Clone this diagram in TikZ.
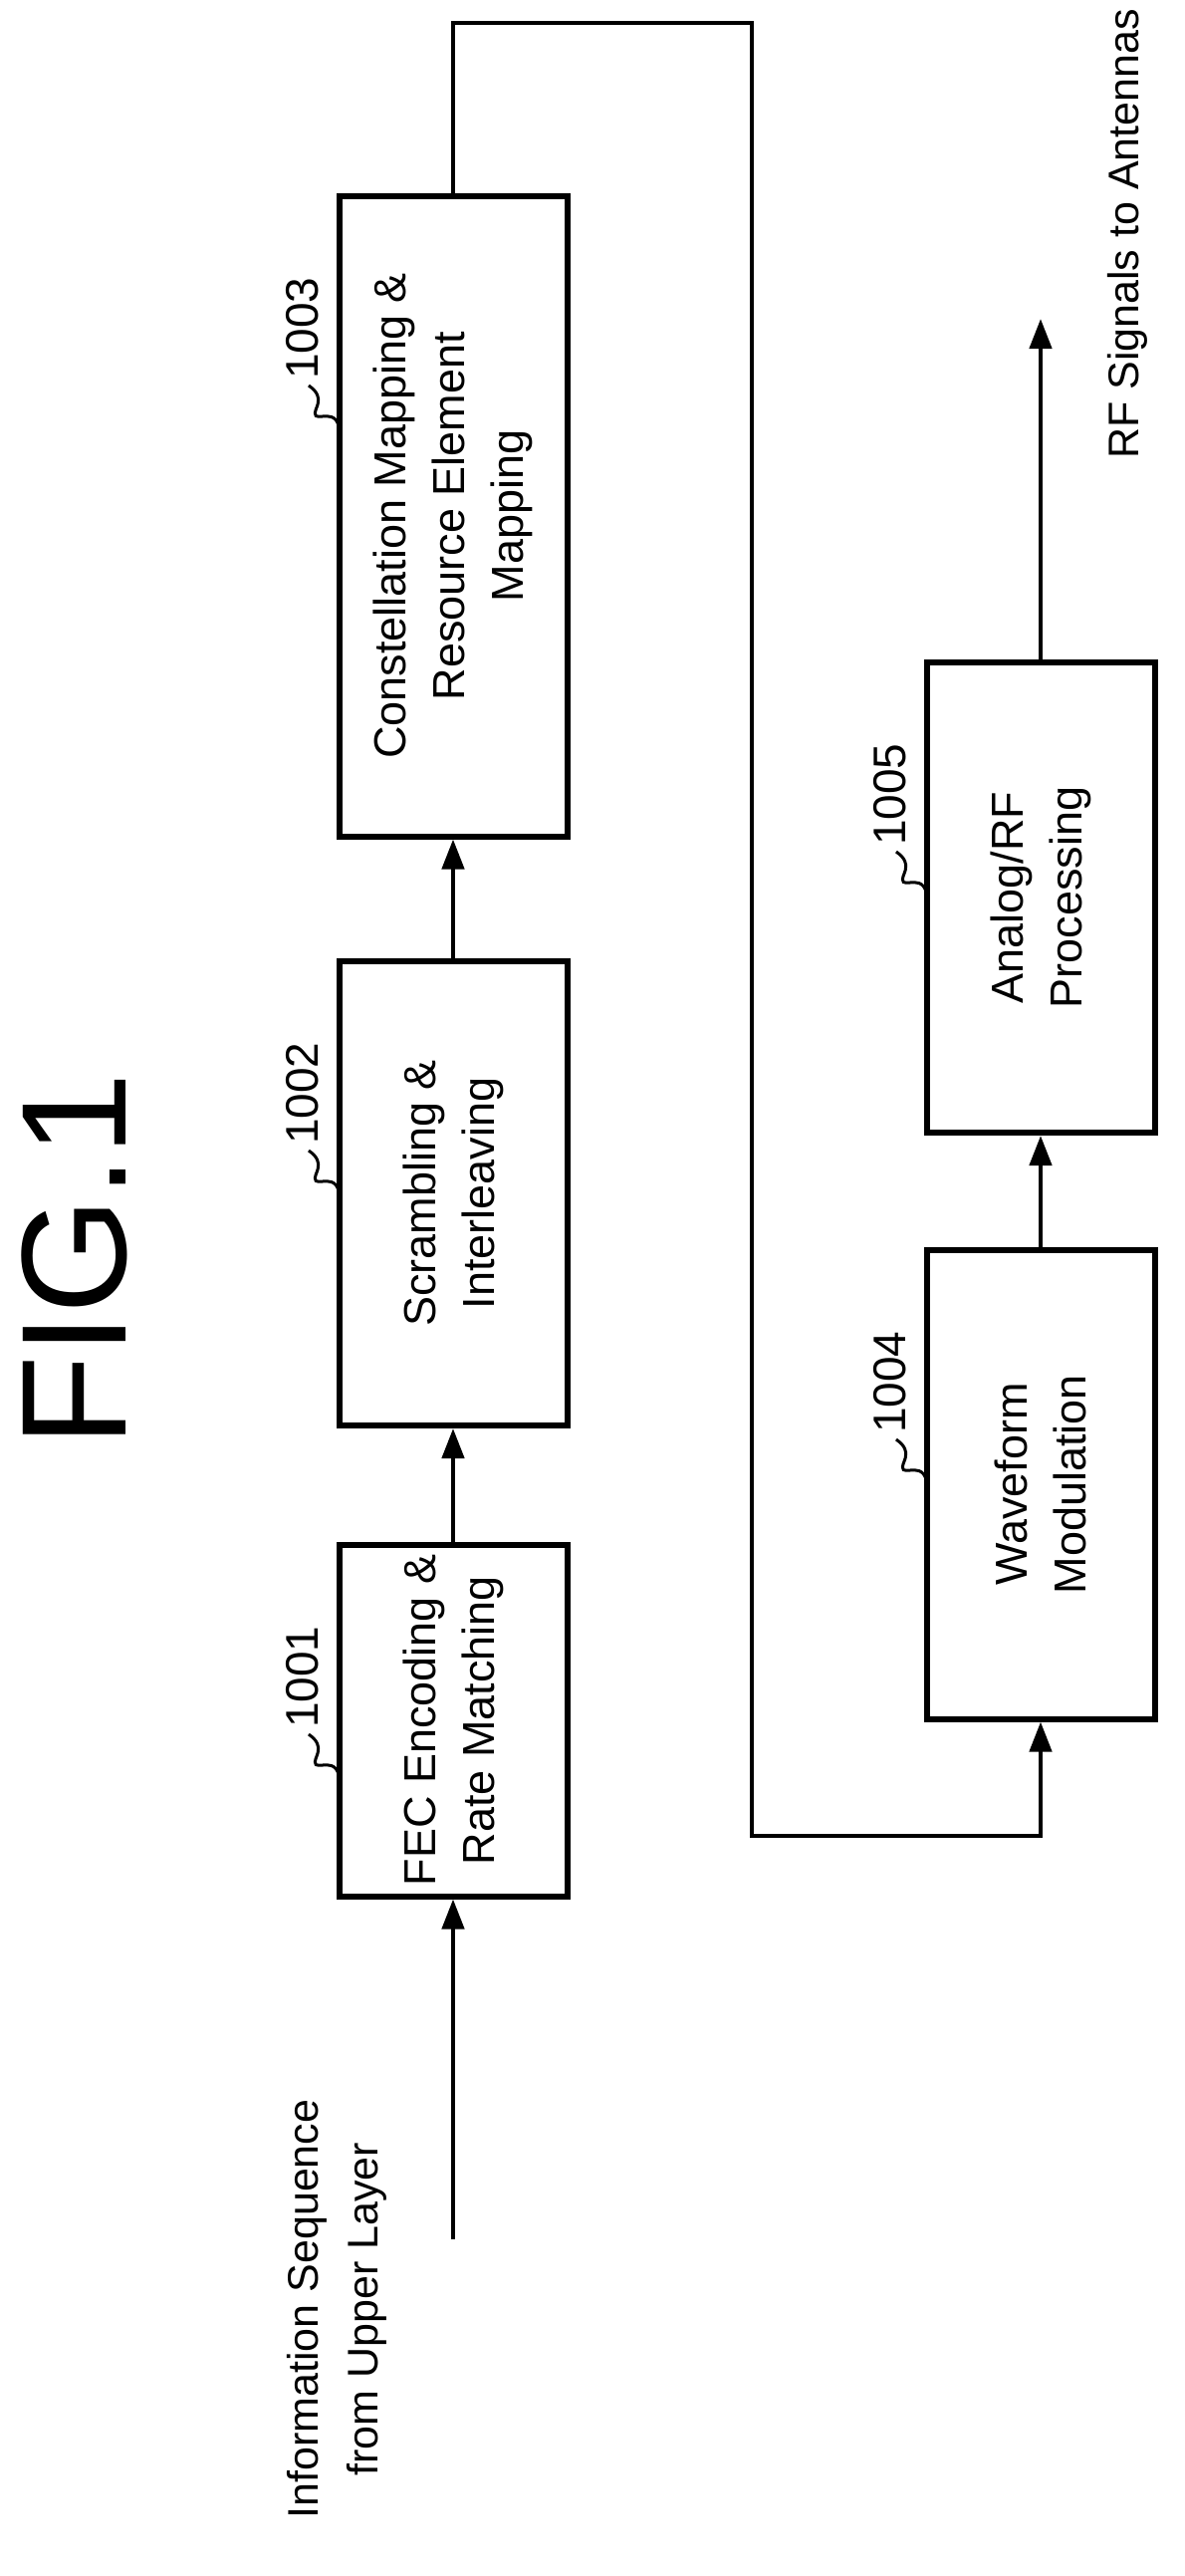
\documentclass[tikz,border=0pt]{standalone}
\usepackage{fontspec}
\setmainfont{Liberation Sans}
\usetikzlibrary{arrows.meta}
\begin{document}
\begin{tikzpicture}[x=1pt,y=-1pt,
  box/.style={draw,line width=6pt,minimum width=466pt,minimum height=229pt,rotate=90,align=center,font=\fontsize{45}{59}\selectfont,inner sep=0},
  con/.style={line width=4.5pt},
  arr/.style={con,-{Triangle[length=30pt,width=22pt]}},
  lbl/.style={rotate=90,font=\fontsize{43}{60}\selectfont,inner sep=0}]
\useasboundingbox (0,0) rectangle (1190,2586);
\node[box,minimum width=353pt] (b1) at (455,1727) {FEC Encoding \&\\Rate Matching};
\node[box] (b2) at (455,1198) {Scrambling \&\\Interleaving};
\node[box,minimum width=643pt] (b3) at (455,518) {Constellation Mapping \&\\Resource Element\\Mapping};
\node[box,minimum width=471pt] (b4) at (1045,1490) {Waveform\\Modulation};
\node[box,minimum width=472pt] (b5) at (1045,901) {Analog/RF\\Processing};
\coordinate (in) at (455,2248);
\coordinate (c1) at (455,23);
\coordinate (c2) at (755,23);
\coordinate (c3) at (755,1843);
\coordinate (c4) at (1045,1843);
\coordinate (out) at (1045,320);
\draw[arr] (in) -- (b1.west);
\draw[arr] (b1.east) -- (b2.west);
\draw[arr] (b2.east) -- (b3.west);
\draw[arr] (b3.east) -- (c1) -- (c2) -- (c3) -- (c4) -- (b4.west);
\draw[arr] (b4.east) -- (b5.west);
\draw[arr] (b5.east) -- (out);
\node[lbl,align=center] (info) at (338,2318) {Information Sequence\\from Upper Layer};
\node[lbl] (rf) at (1132,235) {RF Signals to Antennas};
\node[rotate=90,font=\fontsize{150}{150}\selectfont,inner sep=0] (fig) at (75,1265) {FIG.1};
\foreach \n/\y in {1/1551,2/965,3/197,4/1255,5/665}{
  \pgfmathsetmacro{\bx}{\n<4 ? 340 : 930}
  \draw[line width=3pt] (\bx,\y+230) .. controls (\bx-6,\y+210) and (\bx-30,\y+232) .. (\bx-22,\y+212)
     .. controls (\bx-16,\y+198) and (\bx-28,\y+192) .. (\bx-30,\y+190);
  \node[lbl,anchor=west,font=\fontsize{46}{50}\selectfont] (l\n) at (\bx-36,\y+184) {100\n};
}
\end{tikzpicture}
\end{document}
